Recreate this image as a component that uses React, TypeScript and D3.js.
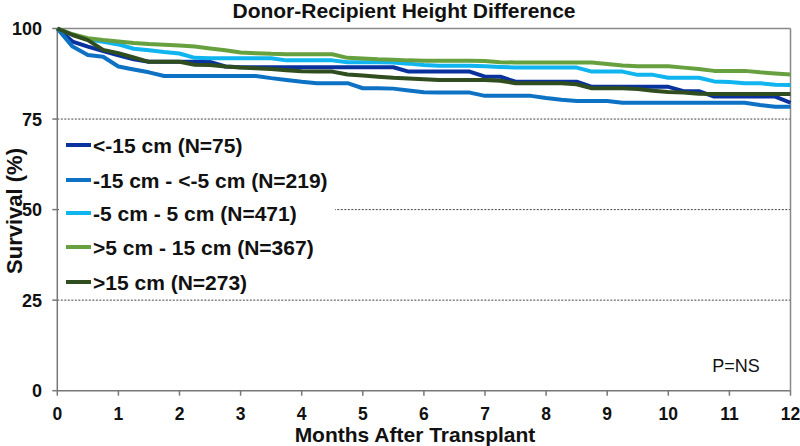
import React from "react";
import * as d3 from "d3";

const months = [0, 0.25, 0.5, 0.75, 1, 1.25, 1.5, 1.75, 2, 2.25, 2.5, 2.75, 3, 3.25, 3.5, 3.75, 4, 4.25, 4.5, 4.75, 5, 5.25, 5.5, 5.75, 6, 6.25, 6.5, 6.75, 7, 7.25, 7.5, 7.75, 8, 8.25, 8.5, 8.75, 9, 9.25, 9.5, 9.75, 10, 10.25, 10.5, 10.75, 11, 11.25, 11.5, 11.75, 12];

const seriesNames = ["<-15 cm (N=75)", "-15 cm - <-5 cm (N=219)", "-5 cm - 5 cm (N=471)", ">5 cm - 15 cm (N=367)", ">15 cm (N=273)"];
const seriesColors = ["#0A329E", "#0E72C4", "#10B4EE", "#67A03E", "#2F4D1E"];

const survLt15 = [100, 96.4, 95.0, 93.8, 92.6, 91.5, 90.8, 90.8, 90.8, 90.8, 90.8, 89.5, 89.3, 89.3, 89.3, 89.3, 89.3, 89.3, 89.3, 89.3, 89.3, 89.3, 89.3, 88.1, 88.1, 88.1, 88.1, 88.1, 86.7, 86.7, 85.3, 85.3, 85.3, 85.3, 85.3, 83.9, 83.9, 83.9, 83.9, 83.9, 83.9, 82.7, 82.7, 81.2, 81.2, 81.2, 81.2, 81.2, 79.5];
const survM15 = [100, 95.0, 92.7, 92.2, 89.5, 88.7, 87.9, 86.9, 86.9, 86.9, 86.9, 86.9, 86.9, 86.9, 86.3, 85.8, 85.3, 84.9, 84.9, 84.9, 83.5, 83.5, 83.4, 82.9, 82.4, 82.3, 82.3, 82.3, 81.4, 81.4, 81.4, 81.4, 80.8, 80.3, 80.0, 80.0, 80.0, 79.5, 79.5, 79.5, 79.5, 79.5, 79.5, 79.5, 79.5, 79.5, 78.9, 78.4, 78.4];
const survM5 = [100, 98.3, 97.0, 96.3, 95.6, 94.4, 94.0, 93.5, 93.1, 91.9, 91.8, 91.8, 91.8, 91.8, 91.8, 91.2, 91.2, 91.2, 91.2, 90.7, 90.7, 90.7, 90.6, 90.3, 89.9, 89.7, 89.7, 89.7, 89.6, 89.4, 89.2, 89.2, 89.2, 89.2, 89.2, 88.1, 88.1, 88.1, 87.2, 87.2, 86.4, 86.4, 86.4, 85.4, 85.2, 84.9, 84.9, 84.5, 84.4];
const survP5 = [100, 98.4, 97.3, 96.8, 96.4, 96.0, 95.7, 95.5, 95.3, 95.0, 94.5, 94.0, 93.4, 93.2, 93.0, 92.9, 92.9, 92.9, 92.9, 91.9, 91.7, 91.5, 91.4, 91.2, 91.1, 91.1, 91.1, 91.1, 91.0, 90.7, 90.6, 90.6, 90.6, 90.6, 90.6, 90.6, 90.2, 89.8, 89.6, 89.6, 89.6, 89.2, 88.8, 88.3, 88.3, 88.3, 87.9, 87.6, 87.3];
const survP15 = [100, 98.2, 96.8, 94.1, 93.2, 92.0, 90.8, 90.8, 90.8, 90.0, 89.9, 89.5, 89.2, 89.0, 88.8, 88.5, 88.2, 88.1, 88.1, 87.3, 87.0, 86.7, 86.4, 86.2, 86.0, 85.8, 85.8, 85.8, 85.8, 85.6, 84.9, 84.9, 84.9, 84.9, 84.6, 83.5, 83.5, 83.5, 83.3, 82.8, 82.5, 82.3, 82.0, 81.9, 81.9, 81.9, 81.9, 81.9, 81.9];

const seriesValues = [survLt15, survM15, survM5, survP5, survP15];

const xTicks = [0, 1, 2, 3, 4, 5, 6, 7, 8, 9, 10, 11, 12];
const yTicks = [0, 25, 50, 75, 100];
const gridValues = [25, 50, 75];

const FONT = "'Liberation Sans', Arial, Helvetica, sans-serif";

export default function App() {
  const W = 800;
  const H = 446;
  const x = d3.scaleLinear().domain([0, 12]).range([57.3, 790.5]);
  const y = d3.scaleLinear().domain([0, 100]).range([390.7, 28.5]);
  const line = d3
    .line<number>()
    .x((_, i) => x(months[i]))
    .y((d) => y(d));

  const legendX = 66;
  const legendRows = [145, 180, 213, 247, 282];

  return (
    <svg
      width={W}
      height={H}
      style={{ position: "absolute", left: 0, top: 0, background: "#fff" }}
      fontFamily={FONT}
    >
      <rect x={0} y={0} width={W} height={H} fill="#fff" />
      {gridValues.map((g) => (
        <line
          key={g}
          x1={x(0)}
          x2={x(12)}
          y1={y(g)}
          y2={y(g)}
          stroke="#444"
          strokeWidth={1}
          strokeDasharray="2 1.5"
        />
      ))}
      <line x1={x(0)} x2={x(12)} y1={y(100)} y2={y(100)} stroke="#888" strokeWidth={1.5} />
      <line x1={x(12)} x2={x(12)} y1={y(100)} y2={y(0)} stroke="#888" strokeWidth={1.5} />
      <line x1={x(0)} x2={x(0)} y1={y(100)} y2={y(0)} stroke="#777" strokeWidth={1.5} />
      <line x1={x(0)} x2={x(12)} y1={y(0)} y2={y(0)} stroke="#777" strokeWidth={1.5} />
      {yTicks.map((t) => (
        <g key={t}>
          <line x1={x(0) - 5} x2={x(0)} y1={y(t)} y2={y(t)} stroke="#777" strokeWidth={1.5} />
          <text
            x={42}
            y={y(t)}
            dy="0.36em"
            textAnchor="end"
            fontSize={18}
            fontWeight="bold"
            fill="#111"
          >
            {t}
          </text>
        </g>
      ))}
      {xTicks.map((t) => (
        <g key={t}>
          <line x1={x(t)} x2={x(t)} y1={y(0)} y2={y(0) + 5} stroke="#777" strokeWidth={1.5} />
          <text
            x={x(t)}
            y={420}
            textAnchor="middle"
            fontSize={17.5}
            fontWeight="bold"
            fill="#111"
          >
            {t}
          </text>
        </g>
      ))}
      {seriesValues.map((vals, i) => (
        <path
          key={i}
          d={line(vals) || ""}
          fill="none"
          stroke={seriesColors[i]}
          strokeWidth={4}
          strokeLinejoin="round"
        />
      ))}
      <rect x={59} y={127} width={276} height={170} fill="#fff" />
      {seriesNames.map((name, i) => (
        <g key={name}>
          <line
            x1={legendX}
            x2={legendX + 25}
            y1={legendRows[i]}
            y2={legendRows[i]}
            stroke={seriesColors[i]}
            strokeWidth={4}
          />
          <text
            x={93}
            y={legendRows[i]}
            dy="0.36em"
            fontSize={21}
            fontWeight="bold"
            fill="#111"
          >
            {name}
          </text>
        </g>
      ))}
      <text x={404} y={18} textAnchor="middle" fontSize={21} fontWeight="bold" fill="#111">
        Donor-Recipient Height Difference
      </text>
      <text
        transform={`translate(22, 211) rotate(-90)`}
        textAnchor="middle"
        fontSize={22}
        fontWeight="bold"
        fill="#111"
      >
        Survival (%)
      </text>
      <text x={415} y={442} textAnchor="middle" fontSize={21} fontWeight="bold" fill="#111">
        Months After Transplant
      </text>
      <text x={736} y={372} textAnchor="middle" fontSize={18} fill="#111">
        P=NS
      </text>
    </svg>
  );
}
